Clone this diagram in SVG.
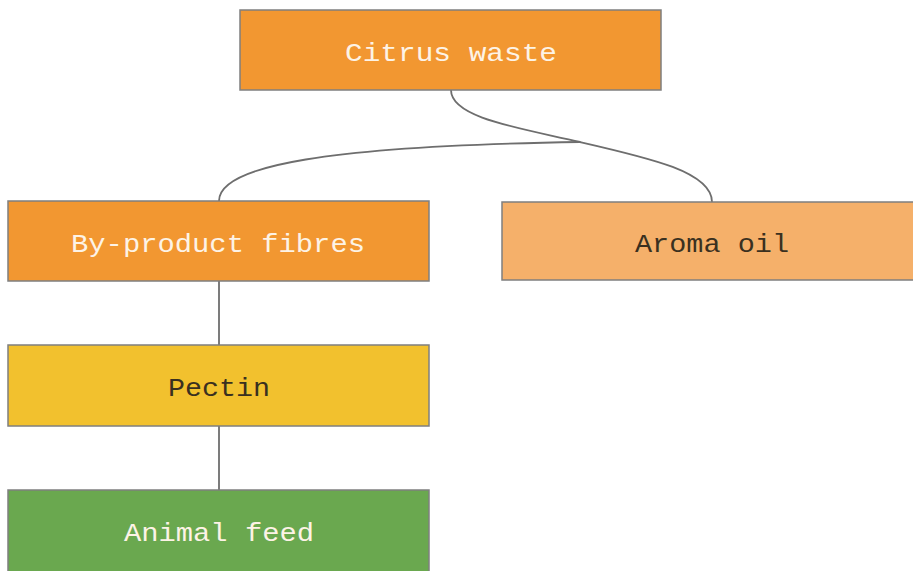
<svg xmlns="http://www.w3.org/2000/svg" width="913" height="571" viewBox="0 0 913 571">
<style>
.box{stroke:#7f7f7f;stroke-width:1.5}
.t{font-family:"Liberation Mono","Courier New",monospace;font-size:25px;text-anchor:middle}
.w{fill:#fdf3e6}
.d{fill:#3a3020}
.c{fill:none;stroke:#6e6e6e;stroke-width:1.8}
</style>
<rect width="913" height="571" fill="#ffffff"/>
<g id="connectors">
<path class="c" d="M451,90 C451,118 520,128 580,142 C650,158 712,172 712,202"/>
<path class="c" d="M219,201 C219,165 330,146 580,142"/>
<path class="c" d="M219,281 L219,345"/>
<path class="c" d="M219,426 L219,490"/>
</g>
<g id="citrus">
<rect class="box" x="240" y="10" width="421" height="80" fill="#f29731"/>
<text class="t w" x="451" y="61" textLength="212" lengthAdjust="spacingAndGlyphs">Citrus waste</text>
</g>
<g id="fibres">
<rect class="box" x="8" y="201" width="421" height="80" fill="#f29731"/>
<text class="t w" x="218" y="252" textLength="294" lengthAdjust="spacingAndGlyphs">By-product fibres</text>
</g>
<g id="aroma">
<rect class="box" x="502" y="202" width="420" height="78" fill="#f5b06a"/>
<text class="t d" x="712" y="252" textLength="154" lengthAdjust="spacingAndGlyphs">Aroma oil</text>
</g>
<g id="pectin">
<rect class="box" x="8" y="345" width="421" height="81" fill="#f2c12e"/>
<text class="t d" x="219" y="396" textLength="102" lengthAdjust="spacingAndGlyphs">Pectin</text>
</g>
<g id="feed">
<rect class="box" x="8" y="490" width="421" height="90" fill="#6aa84f"/>
<text class="t w" x="219" y="541" textLength="190" lengthAdjust="spacingAndGlyphs">Animal feed</text>
</g>
</svg>
